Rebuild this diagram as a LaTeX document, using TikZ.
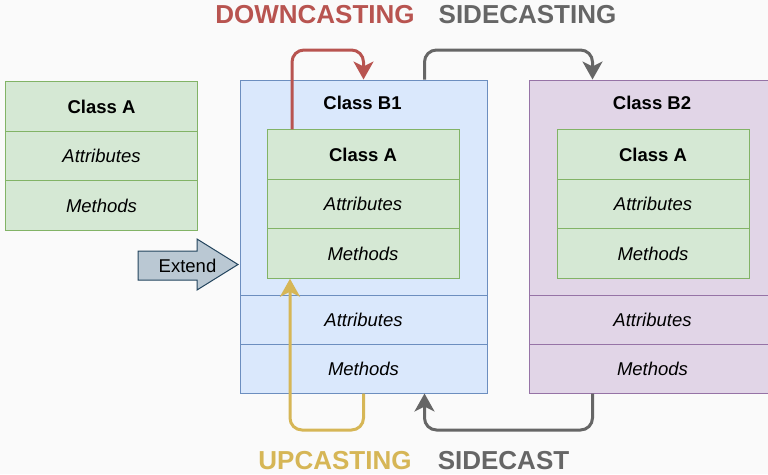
\documentclass[tikz,border=0pt]{standalone}
\usepackage{fontspec}
\setmainfont{Liberation Sans}
\usetikzlibrary{arrows.meta}
\definecolor{bgc}{HTML}{FAFAFA}
\definecolor{gfill}{HTML}{D5E8D4}
\definecolor{gline}{HTML}{82B366}
\definecolor{bfill}{HTML}{DAE8FC}
\definecolor{bline}{HTML}{6C8EBF}
\definecolor{pfill}{HTML}{E1D5E7}
\definecolor{pline}{HTML}{9673A6}
\definecolor{redc}{HTML}{B85450}
\definecolor{yelc}{HTML}{D6B656}
\definecolor{grayc}{HTML}{666666}
\definecolor{efill}{HTML}{BAC8D3}
\definecolor{eline}{HTML}{23445D}
\tikzset{
  cell/.style={rectangle, draw=gline, fill=gfill, line width=1pt, minimum width=192pt, minimum height=49.5pt, inner sep=0pt, font=\fontsize{18.5}{22}\selectfont},
  outerb/.style={rectangle, draw=bline, fill=bfill, line width=1pt, minimum width=247pt, inner sep=0pt},
  outerp/.style={rectangle, draw=pline, fill=pfill, line width=1pt, minimum width=247pt, inner sep=0pt},
  rowb/.style={outerb, minimum height=49pt, font=\fontsize{18.5}{22}\selectfont},
  rowp/.style={outerp, minimum height=49pt, font=\fontsize{18.5}{22}\selectfont},
  titletext/.style={font=\fontsize{18.5}{22}\selectfont\bfseries, inner sep=0pt},
  conn/.style={line width=3pt, rounded corners=12pt, -{Stealth[length=18pt,width=20pt,inset=5pt]}},
  lbl/.style={font=\fontsize{26}{30}\selectfont\bfseries, inner sep=0pt}
}
\begin{document}
\begin{tikzpicture}[x=1pt,y=-1pt]
\useasboundingbox (0,0) rectangle (768,474);
\clip (0,0) rectangle (768,474);
\fill[bgc] (0,0) rectangle (768,474);

% left Class A
\node[cell, font=\fontsize{18.5}{22}\selectfont\bfseries] (LAt) at (101.5,106.5) {Class A};
\node[cell, font=\fontsize{18.5}{22}\selectfont\itshape] (LAa) at (101.5,156) {Attributes};
\node[cell, font=\fontsize{18.5}{22}\selectfont\itshape] (LAm) at (101.5,205.5) {Methods};

% Class B1
\node[outerb, minimum height=313pt] (B1) at (363.5,236.5) {};
\node[rowb, font=\fontsize{18.5}{22}\selectfont\itshape] (B1a) at (363.5,319.5) {Attributes};
\node[rowb, font=\fontsize{18.5}{22}\selectfont\itshape] (B1m) at (363.5,368.5) {Methods};
\node[titletext] (B1t) at (362.5,103) {Class B1};
\node[cell, font=\fontsize{18.5}{22}\selectfont\bfseries] (IAt) at (363,154.5) {Class A};
\node[cell, font=\fontsize{18.5}{22}\selectfont\itshape] (IAa) at (363,204) {Attributes};
\node[cell, font=\fontsize{18.5}{22}\selectfont\itshape] (IAm) at (363,253.5) {Methods};

% Class B2
\node[outerp, minimum height=313pt] (B2) at (652.5,236.5) {};
\node[rowp, font=\fontsize{18.5}{22}\selectfont\itshape] (B2a) at (652.5,319.5) {Attributes};
\node[rowp, font=\fontsize{18.5}{22}\selectfont\itshape] (B2m) at (652.5,368.5) {Methods};
\node[titletext] (B2t) at (652,103) {Class B2};
\node[cell, font=\fontsize{18.5}{22}\selectfont\bfseries] (JAt) at (653,154.5) {Class A};
\node[cell, font=\fontsize{18.5}{22}\selectfont\itshape] (JAa) at (653,204) {Attributes};
\node[cell, font=\fontsize{18.5}{22}\selectfont\itshape] (JAm) at (653,253.5) {Methods};

% Extend arrow
\draw[draw=eline, fill=efill, line width=1pt, line join=miter]
  (138,251) -- (197,251) -- (197,239) -- (238,264.5) -- (197,290) -- (197,280) -- (138,280) -- cycle;
\node[font=\fontsize{18.5}{22}\selectfont, inner sep=0pt] (ext) at (187.5,265.5) {Extend};

% helper coordinates
\coordinate (topy) at (0,50);
\coordinate (boty) at (0,430);
\coordinate (dcS) at ([xshift=25.5pt]IAt.north west);
\coordinate (scS) at ([xshift=185pt]B1.north west);
\coordinate (scE) at ([xshift=64pt]B2.north west);
\coordinate (ucE) at ([xshift=23.5pt]IAm.south west);
\coordinate (sbS) at ([xshift=64pt]B2m.south west);
\coordinate (sbE) at ([xshift=185pt]B1m.south west);

% downcasting
\draw[conn, redc] (dcS) |- (topy -| B1.north) -- (B1.north);
% sidecasting
\draw[conn, grayc] (scS) |- (topy -| scE) -- (scE);
% upcasting
\draw[conn, yelc] (B1m.south) |- (boty -| ucE) -- (ucE);
% sidecast
\draw[conn, grayc] (sbS) |- (boty -| sbE) -- (sbE);

% labels
\node[lbl, text=redc] (Ldown) at (315,15) {DOWNCASTING};
\node[lbl, text=grayc] (Lside) at (527.5,15) {SIDECASTING};
\node[lbl, text=yelc] (Lup) at (335,461) {UPCASTING};
\node[lbl, text=grayc] (Lsc) at (503.5,461) {SIDECAST};
\end{tikzpicture}
\end{document}
